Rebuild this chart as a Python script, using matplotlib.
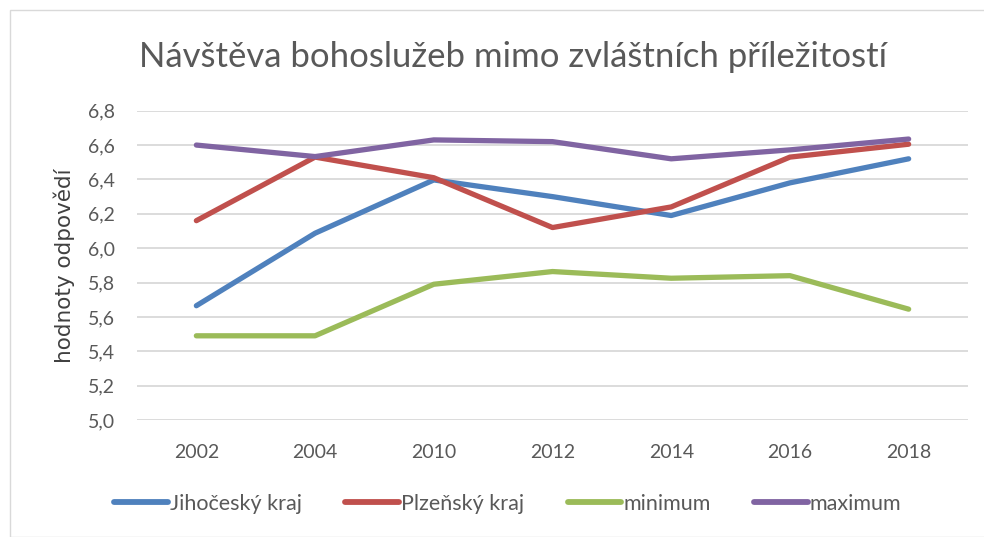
import matplotlib
matplotlib.use("Agg")
import matplotlib.pyplot as plt
from matplotlib.patches import Rectangle

years = ["2002", "2004", "2010", "2012", "2014", "2016", "2018"]
jihocesky = [5.665, 6.087, 6.397, 6.30, 6.19, 6.38, 6.52]
plzensky = [6.16, 6.53, 6.41, 6.12, 6.24, 6.53, 6.605]
minimum = [5.49, 5.49, 5.79, 5.864, 5.825, 5.84, 5.645]
maximum = [6.60, 6.533, 6.63, 6.62, 6.52, 6.572, 6.635]
series_names = ["Jihočeský kraj", "Plzeňský kraj", "minimum", "maximum"]
y_ticks = [5.0, 5.2, 5.4, 5.6, 5.8, 6.0, 6.2, 6.4, 6.6, 6.8]

colors = ["#4F81BD", "#C0504D", "#9BBB59", "#8064A2"]
plt.rcParams['font.family'] = ['Lato', 'DejaVu Sans']

fig = plt.figure(figsize=(9.84, 5.37), dpi=100)
fig.patches.append(Rectangle((10/984, 0), 1, 1 - 10/537, transform=fig.transFigure,
                             fill=False, edgecolor="#D9D9D9", linewidth=1))
ax = fig.add_axes([137/984, 1 - 420/537, (968 - 137)/984, (420 - 110.7)/537])

x = list(range(len(years)))
for data, name, c in zip([jihocesky, plzensky, minimum, maximum], series_names, colors):
    ax.plot(x, data, color=c, linewidth=3.8, label=name, solid_capstyle='round', zorder=3)

ax.set_xlim(-0.5, len(years) - 0.5)
ax.set_ylim(5.0, 6.8)
ax.set_yticks(y_ticks)
ax.set_yticklabels([f"{v:.1f}".replace(".", ",") for v in y_ticks])
ax.set_xticks(x)
ax.set_xticklabels(years)
ax.grid(axis='y', color="#D9D9D9", linewidth=1.3)
ax.set_axisbelow(True)
for s in ax.spines.values():
    s.set_visible(False)
ax.tick_params(length=0, labelsize=14, colors="#595959")
ax.tick_params(axis='y', pad=16)
ax.tick_params(axis='x', pad=17)
ax.set_ylabel("hodnoty odpovědí", fontsize=15.5, color="#404040", labelpad=9,
              family=['DejaVu Sans'])

fig.text(513/984, 1 - 57/537, "Návštěva bohoslužeb mimo zvláštních příležitostí",
         ha='center', va='center', fontsize=25, color="#595959")

leg = fig.legend(loc='center', bbox_to_anchor=(508/984, 1 - 504/537), ncol=4, frameon=False,
                 fontsize=15.5, handlelength=2.5, columnspacing=2.0, handletextpad=0.1)
for line in leg.get_lines():
    line.set_linewidth(4.2)
for t in leg.get_texts():
    t.set_color("#595959")

fig.savefig("out.png", dpi=100)
